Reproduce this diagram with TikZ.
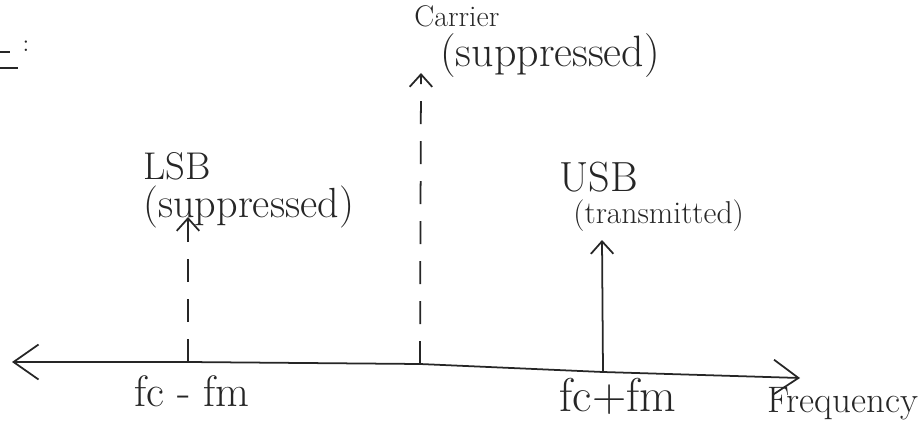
\documentclass[tikz,border=0pt]{standalone}
\usepackage{fontspec}
\usepackage{tikz}
\usetikzlibrary{arrows.meta}
\usetikzlibrary{positioning}

\newcommand{\pt}[1]{\fontsize{#1}{1.2\dimexpr#1pt\relax}\selectfont}

\tikzset{
  pen/.style={line width=1pt, black!85},
  axistips/.style={{Straight Barb[length=5mm,width=7mm]}-{Straight Barb[length=5mm,width=7mm]}},
  sideband/.style={pen, -{Straight Barb[length=2.5mm,width=4.5mm]}},
  hidden/.style={dash pattern=on 0.46cm off 0.34cm},
  hand/.style={black!85, inner sep=0pt},
}

\begin{document}
\begin{tikzpicture}[x=0.02cm, y=-0.02cm]
	\useasboundingbox (0,0) rectangle (918,439);
	
	% leftover mark in the corner
	\draw [pen] (0,52) -- (10,52);
	\draw [pen] (0,68) -- (18,68);
	\node [hand] (colon) at (26,46) {\pt{14}:};
	
	% frequency axis
	\coordinate (left) at (12,362);
	\coordinate (lsb) at (188,362);
	\coordinate (car) at (420,364);
	\coordinate (usb) at (603,372);
	\coordinate (right) at (800,378);
	\draw [pen, axistips] (left) -- (lsb) -- (car) -- (usb) -- (right);
	
	% the three spectral lines
	\coordinate (lsb top) at (188,217);
	\coordinate (car top) at (421,73);
	\coordinate (usb top) at (602,240);
	\draw [sideband, hidden] (lsb) -- (lsb top);
	\draw [sideband, hidden] (car) -- (car top);
	\draw [sideband] (usb) -- (usb top);
	
	% line labels
	\node [hand, anchor=west] (lsb sup) at (143,207) {\pt{24}(suppressed)};
	\node [hand, above=3pt of lsb sup.north west, anchor=south west] (lsb name) {\pt{22}LSB};
	
	\node [hand, anchor=west] (car sup) at (440,56) {\pt{25}(suppressed)};
	\node [hand, anchor=west] (car name) at (414,16) {\pt{17}Carrier};
	
	\node [hand, anchor=west] (usb sup) at (573,216) {\pt{18}(transmitted)};
	\node [hand, above=4pt of usb sup.north west, anchor=south west, xshift=-8pt] (usb name) {\pt{24}USB};
	
	% axis labels
	\node [hand] (f lo) at (192,391) {\pt{25}fc - fm};
	\node [hand] (f hi) at (618,396) {\pt{27}fc+fm};
	\node [hand] (f axis) at (843,404) {\pt{21}Frequency};
\end{tikzpicture}
\end{document}
